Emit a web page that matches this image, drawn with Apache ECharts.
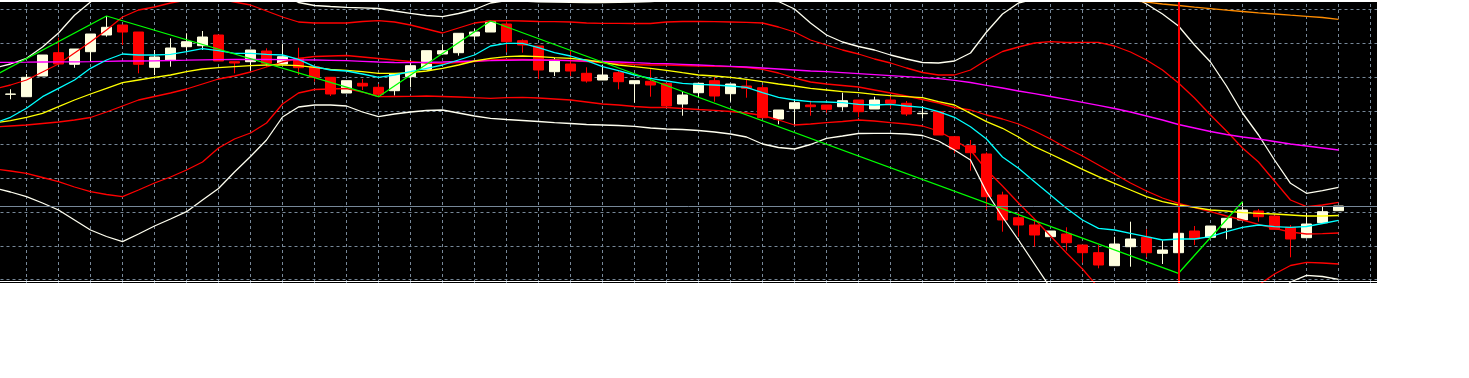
<!DOCTYPE html>
<html>
<head>
<meta charset="utf-8">
<script src="https://cdn.jsdelivr.net/npm/echarts@6/dist/echarts.min.js"></script>
<style>
  html, body { margin: 0; padding: 0; background: #ffffff; }
  #chart { position: absolute; left: 0; top: 0; width: 1377px; height: 283px; }
  .frame { position: absolute; left: 0; width: 1377px; background: #ffffff; }
</style>
</head>
<body>
<div id="chart"></div>
<div class="frame" style="top:0;height:2px"></div>
<div class="frame" style="top:281px;height:1px"></div>
<script>
// ---- candles (bar index 0..83), price units ----
const barOpen = [205.7,203.3,224,247.3,235.7,248.3,265,275,268,232.7,240,253.3,254.3,265,238.3,238.3,249,236,241.7,233.3,
  222.7,207,216.7,212.7,209.3,223.3,230.7,246,247.3,264,268,276,259.3,254,228.3,236,226.7,220,227.3,216.3,
  218.7,216.7,196,207.3,219.3,206.3,214,212.3,181,191.3,195,195,193.3,200,191,200,196.7,186.3,188.3,163.3,
  154.3,146,105,82.3,75,63.3,66,55,47.3,34.3,53.3,62.7,46.7,47.3,69,62.7,72.3,80,89,84,
  72.7,62.3,77.3,89.3];
const barClose = [206,222.7,245,236,251,266,272.7,268,235.7,243,252,258.3,263,239,237,250,236.7,243.3,232.3,222.7,
  206,219.3,214,205.7,226,234.3,249.3,249.3,266.7,268,278.7,258.3,255,230,240,229,219,225,218.3,219.3,
  215,194,205,216.7,204,216,211.7,182.3,190,197.3,193.3,190.7,199.3,188.3,200,196.7,186,186.7,165,151,
  147.3,103.3,80,75,65,69,57.3,47.3,35,56,61,47.3,50,66.7,61,74,81.7,90,83.3,70.7,
  61,76,88.3,94];
const barLow = [200.7,203.3,224,236,232.3,238.3,263.3,255,226.7,225,233.3,248.3,250,239,226.7,229.3,233.3,236,225,218.3,
  204,207,210,203.3,204.5,212.7,230.7,246,244.3,260,268,247.7,247.3,221,224,224,217.3,220,210.7,197.3,
  203.3,194,184.3,202.7,198.3,198.3,202.3,182.3,175.7,175,184.3,187.3,189.3,182.7,191,191.7,184,181.7,165,146.7,
  129.3,90.7,68.3,63.3,53.3,63.3,49.3,37.3,31.7,34.3,33.3,42.7,36,47.3,55,62.7,60.7,80,78.3,70.7,
  42.7,62.3,77.3,89.3];
const barHigh = [210.7,226,245,262.3,251,266,284,275,268,250,261.7,266.7,269,265,238.3,250,251.7,256,252.3,233.3,
  222.7,219.3,221,216,226,240,249.3,255.7,266.7,271.3,279,278.5,260.7,254,242,249.3,232.7,235,229,219.3,
  230.7,216.7,208.3,216.7,222.7,216,220,215,190,201,199.3,195,207.3,200,203.3,203.3,199,194,188.3,163.3,
  160,147.7,108.3,87.3,80.7,69,72.7,55,55,63.3,78.3,70.7,59.3,66.7,74,74,81.7,98.3,91,84,
  75,87.3,94,94];

// ---- indicator lines, bar index -1..83 ----
const lineFirstBar = -1;
const maFast = [176.8,182.7,191.7,203.3,211.7,220,231.7,240,246,245,245,245.7,248.3,251.3,249.3,246.7,246.7,245.7,245,240.7,233.3,
  230,229,226,222.7,225,228.3,231.7,235,240,245,254,256.7,256.7,252.3,247.3,244,239.3,233.3,229.3,225,
  221.7,219,216.7,215.7,215,214,212.7,207.3,202.7,200,198.3,198,197.3,195.7,195,195.7,194,192.7,188.3,182.7,
  173.3,161,143,131.7,118.3,105,91.7,80,71.7,70,66.7,63.3,60,61,61,63.3,68.3,72.7,75,73.3,
  72.7,73.5,76.5,79.7];
const maMid = [177,179.3,182.7,186.7,193.3,200,206,211.7,217.3,220,222.7,225,228.3,231,232.3,233.3,234.3,235,235,234.3,232.7,
  230.7,229.7,228.3,226.7,226.7,227.3,229,231.7,235,239,241.7,243.3,244,243.3,242.3,241.7,240,237.7,235,233.3,
  231.7,229.7,227.3,225,224,222.7,220.7,218.3,216,214,211.7,210,208.3,207.3,205.7,204.3,203.3,202.3,198.3,195,
  186.7,178.3,171.7,163,153.3,146,138.3,130.7,123.3,116.7,110,103.3,98.3,95,92.7,90,89,87.3,86.7,86,
  85,84,84,84.5];
const maSlow = [237.5,237.7,237.8,238,238.1,238.2,238.4,238.7,239,239,239.2,239.5,239.8,240.2,240.4,240.5,240.5,240.5,240.4,240.2,240,
  239.7,239.3,238.7,238,237.5,237.3,237.7,238,238.5,239,239.3,239.7,240,240,239.7,239.3,239,238.7,238,237.3,
  236.7,236.3,235.7,235,234.3,233.7,233,232,231,230,229,228.3,227.3,226.3,225.3,224.3,223.3,222.3,221.3,219.7,
  217.5,214.7,212,209,206.3,203.5,200.7,197.7,194.7,191.5,188,184,180,175.5,172,168.5,165.5,163,161,158.5,
  156,154,152,150];
const maLong = [null,null,null,null,null,null,null,null,null,null,null,null,null,null,null,null,null,null,null,null,null,
  null,null,null,null,null,null,null,null,null,null,null,null,null,null,null,null,null,null,null,null,
  null,null,null,null,null,null,null,null,null,null,null,null,null,null,null,null,null,null,null,null,
  null,null,null,null,null,null,null,null,303,301.3,299.5,297.8,296,294.5,292.8,291.3,289.8,288.5,287.2,286,
  284.8,283.7,282.5,280.7];
const bandMid = [173,174,175,176.5,178,180,182.5,188,194,200,203.5,207,211,216,221,224,228,233,238,241.5,243.5,
  244,244.5,243,241.5,240,238.5,237,236.5,237.5,238.5,240,240.5,240.5,240,240,239.5,238.5,237.5,236.5,235.5,
  235,235,234.5,234,233.7,233.3,232.5,230.7,227,222,218,216,214.5,213,210,207,204,200.5,197,192.5,
  190,185,181,176,169,161,152,144,135,126,117,109,102,96.7,92.5,88.3,84,80,75.7,71.7,
  68,66,66.3,67];
const bandUp2 = [211,215,220,228,236,247,258,270,283,290,293,297,300,302,301,298,295,289,283,278,277,
  277,277,278.5,279.3,278,275,271,267,272,277,279,279.3,279,278.5,278.3,278,277,276.7,276.7,276.5,
  276.5,278,278.5,278.5,278.3,278,277.7,277,273,268,260,255,250,246,241,237,232,227.5,225,225,
  230,240,248.5,253,257,258.3,257.5,257.7,257.7,254,248,240,230,217,202,185,169,152,138,119,
  100,93.3,95,97.7];
const bandLow2 = [131,129,126.7,122.5,118.3,113,108.3,105.5,103.3,110,117,123,130,138,152,161,167,177,196,207,210.5,
  211,211.5,208,203.3,203.5,203.7,204,203.5,203,202.3,201.7,202.3,202.7,202,201,200,198,196,195,193.5,
  192.5,192.5,191.5,190.5,189.7,188.5,187,184.5,180,175,176,177.3,178.5,180,179,177.3,176,174,169,160,
  150,130,114,97,81,64,47,31,12.3,-2,-14,-22,-26,-23.6,-17,-8.4,-1,8,15,26,
  34.5,37.7,37,36];
const bandUp3 = [232,236,241.7,253,267,284.7,298,311,330,335,338,342,346,346,342,335,328,317,305.5,297.5,294.5,
  293.5,292.7,292.2,291.5,289,286.7,284.5,283.3,286.5,290.5,297,299.5,299,298.2,297.8,297.6,297.5,297.5,297.6,297.8,
  298.5,299.5,300.5,301,301,300.5,300,299.5,298.5,291,277,265,258,253.5,250,245,241,237.5,237,239,
  247,268,286,297,301,307,310,314.5,317,312,305,296,286,274,255,238,214,187,165,140,
  116.7,106.7,109.3,112.7];
const bandLow3 = [112,108,103.3,97,90,80,70,63.5,58.3,66,74,81,88.3,100,111.5,128,143.5,160,183,193,195,
  195,194,188,183.3,186,188,189.5,190,187,184,181.7,180.5,179.5,178.5,177.3,176.5,175.5,175,174.5,173.7,
  172,171,170.5,169.5,168,166,163,156,152.5,151,155.5,161.7,164,166.5,166.7,166.7,166,164.5,159,150,
  140,108,83,60,36,12,-6,-26.5,-49,-66,-79.5,-87.5,-90,-83,-71.5,-56.7,-43.5,-28,-17,2,
  18,24.7,23.5,20.7];

// ---- zigzag pivots ----
const zigzagBars = [-3, 6, 23, 30, 73, 77];
const zigzagValues = [207.4, 284, 203.3, 279, 26.7, 98.3];

// ---- markers ----
const cursorBar = 73;

// ---- build ----
const candleData = barOpen.map((o, i) => [i, o, barClose[i], barLow[i], barHigh[i]]);
const toPairs = (arr) => arr.map((v, k) => [lineFirstBar + k, v]).filter(p => p[1] !== null);
const lastClose = barClose[barClose.length - 1];

const LW = 1.3;
const lineSeries = (name, arr, color, z) => ({
  name, type: 'line', data: toPairs(arr), showSymbol: false, symbol: 'none',
  lineStyle: { color, width: LW }, z: z || 3, silent: true, clip: true
});

const chart = echarts.init(document.getElementById('chart'), null, { renderer: 'canvas' });
const gridLine = { show: true, lineStyle: { color: '#778899', width: 1, type: [3, 3] } };
chart.setOption({
  animation: false,
  backgroundColor: '#000000',
  grid: { left: -5.5, top: -8, width: 1408, height: 321.25, containLabel: false, outerBoundsMode: 'none' },
  xAxis: { type: 'value', min: -1, max: 87, interval: 2, axisLine: { show: false }, axisTick: { show: false },
           axisLabel: { show: false }, splitLine: gridLine },
  yAxis: { type: 'value', min: -13.25, max: 308, interval: 33.75, axisLine: { show: false }, axisTick: { show: false },
           axisLabel: { show: false }, splitLine: gridLine },
  series: [
    {
      type: 'candlestick', data: candleData, barWidth: 10, z: 2, silent: true,
      itemStyle: { color: '#FFFFE0', color0: '#FF0000', borderColor: '#FFFFE0', borderColor0: '#FF0000', borderWidth: 1 },
      markLine: {
        silent: true, symbol: 'none', label: { show: false },
        data: [
          { xAxis: cursorBar, lineStyle: { color: '#FF0000', width: 2, type: 'solid' } },
          { yAxis: lastClose, lineStyle: { color: '#778899', width: 1, type: 'solid' } }
        ]
      }
    },
    lineSeries('BB +3', bandUp3, '#FFFFF0'),
    lineSeries('BB -3', bandLow3, '#FFFFF0'),
    lineSeries('BB +2', bandUp2, '#FF0000'),
    lineSeries('BB -2', bandLow2, '#FF0000'),
    lineSeries('BB mid', bandMid, '#FF0000'),
    lineSeries('MA slow', maSlow, '#FF00FF'),
    lineSeries('MA long', maLong, '#FF8C00'),
    lineSeries('MA mid', maMid, '#FFFF00'),
    lineSeries('MA fast', maFast, '#00FFFF'),
    {
      name: 'ZigZag', type: 'line', data: zigzagBars.map((b, k) => [b, zigzagValues[k]]),
      showSymbol: false, symbol: 'none', lineStyle: { color: '#00FF00', width: LW }, z: 4, silent: true
    }
  ]
});
</script>
</body>
</html>
